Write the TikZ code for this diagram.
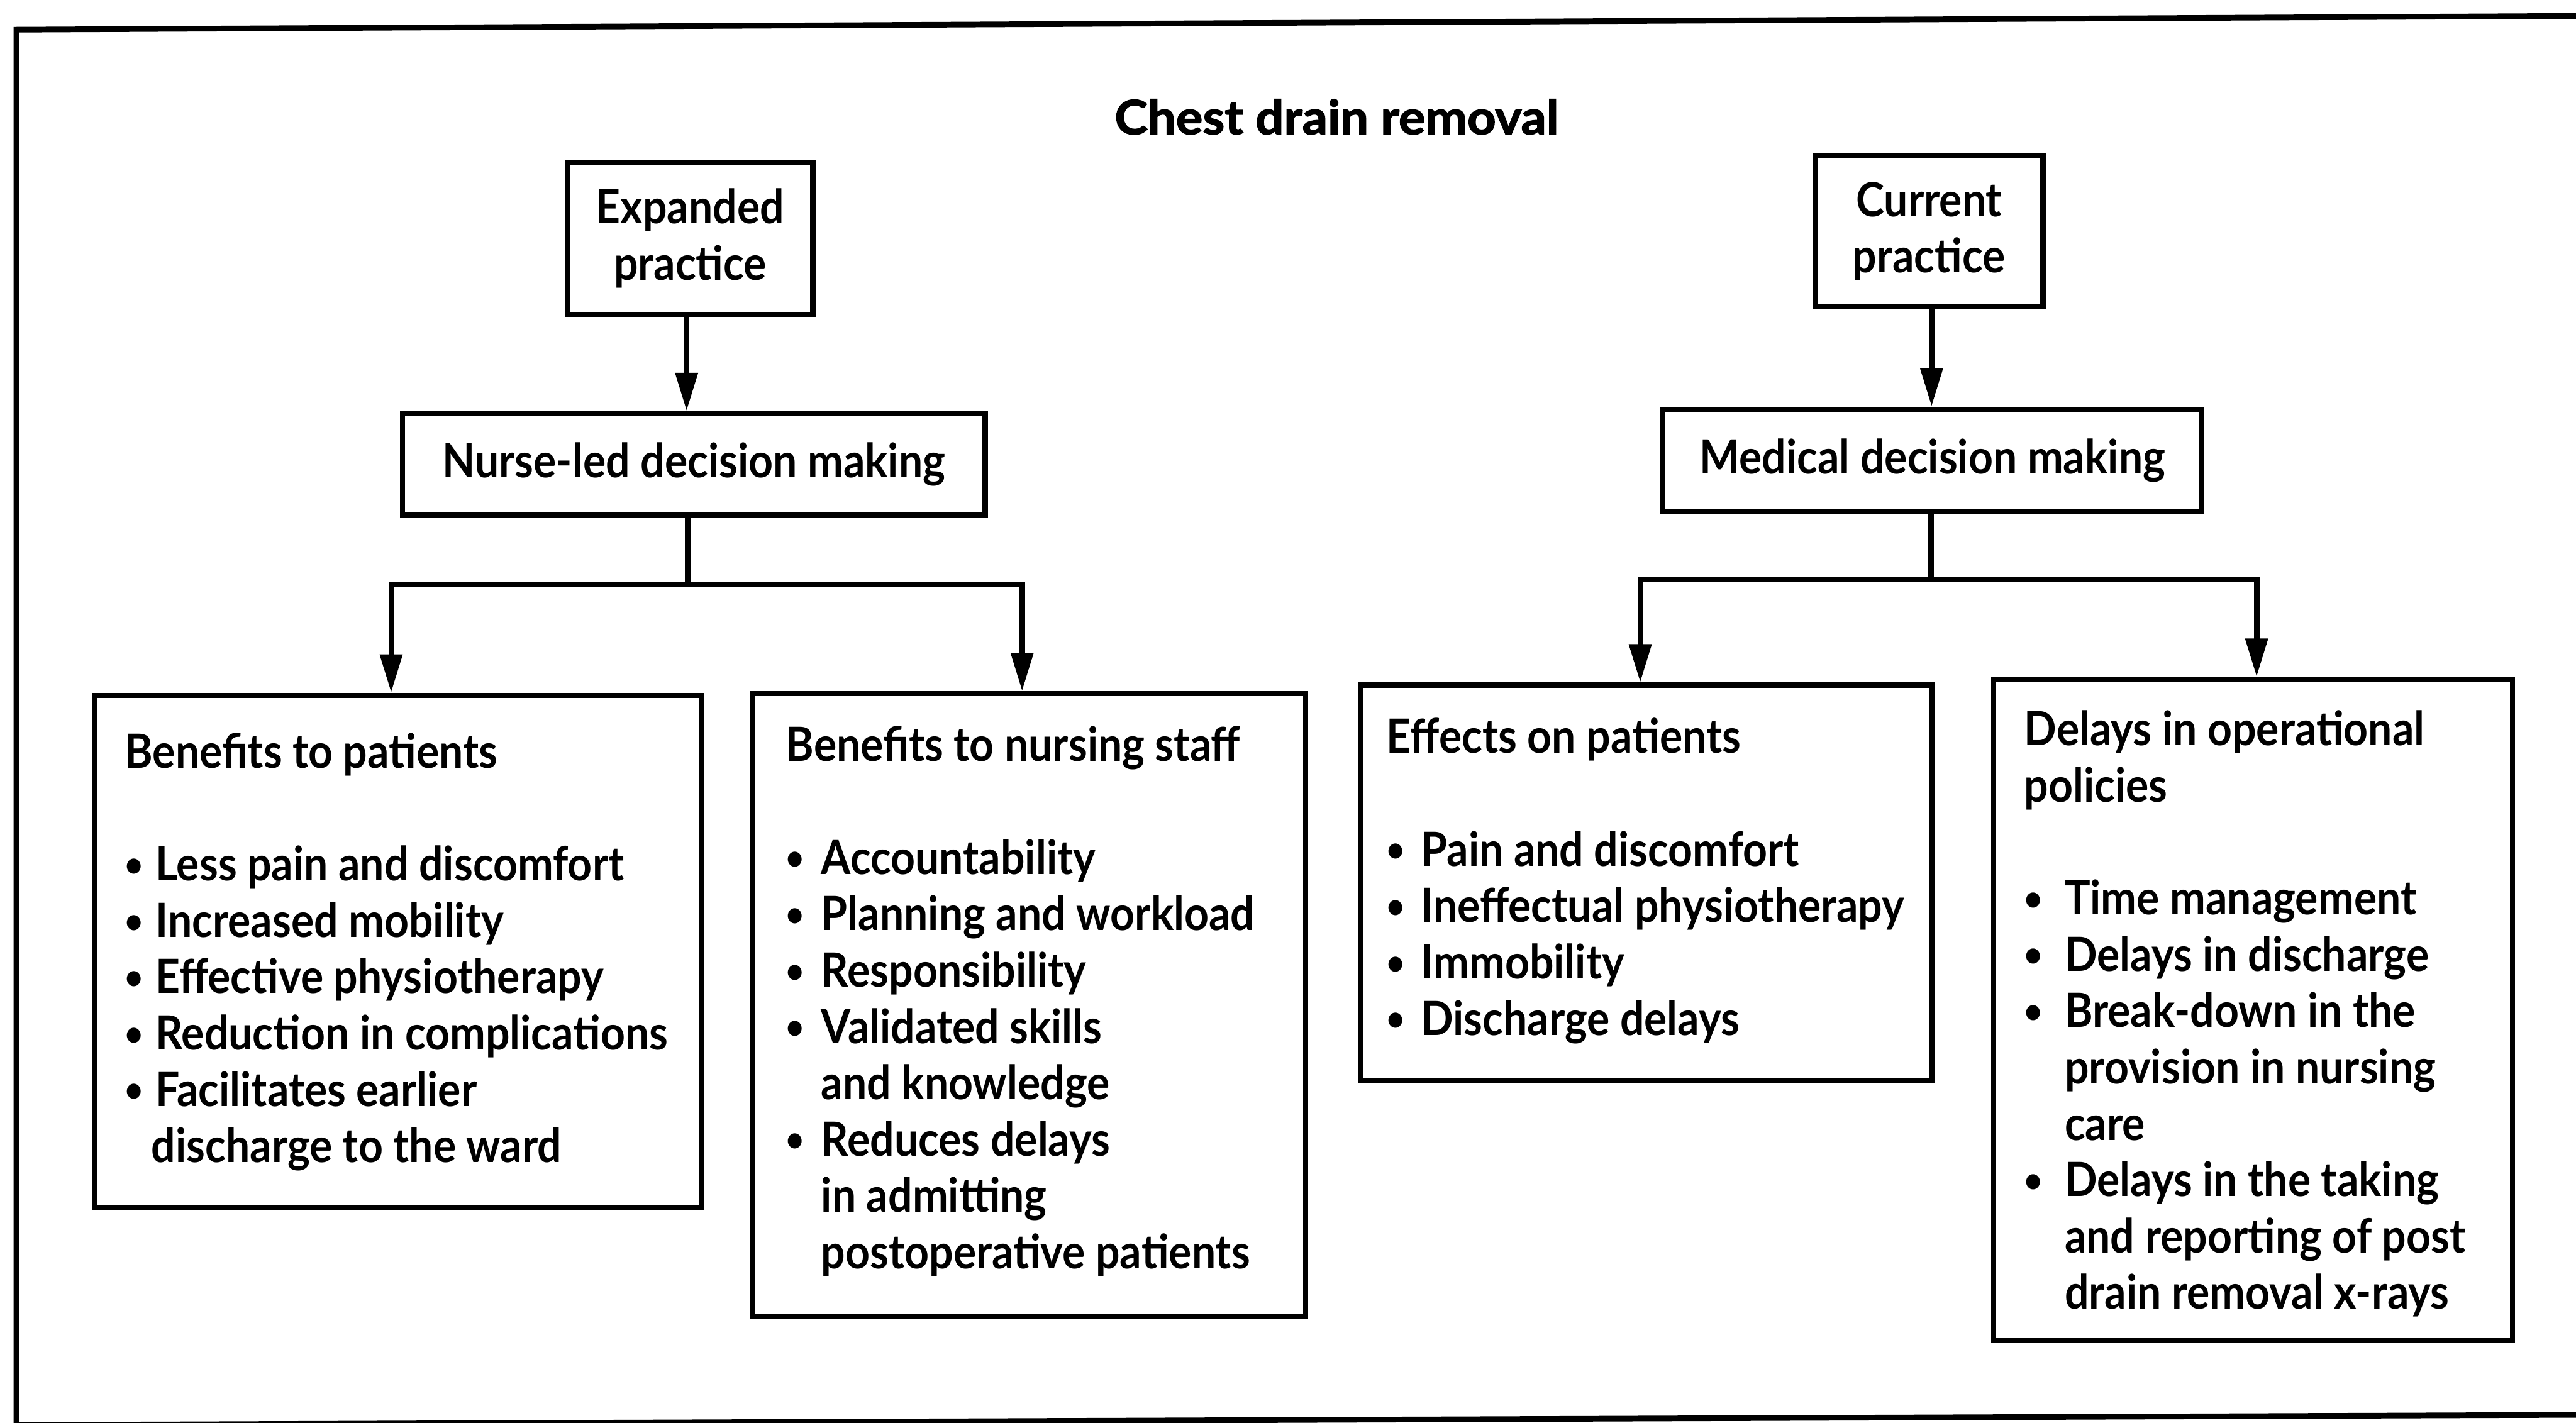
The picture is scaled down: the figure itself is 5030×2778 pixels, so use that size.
\documentclass[tikz,border=0pt]{standalone}
\usepackage{fontspec}
\setmainfont{Lato}[FakeStretch=0.905]
\newfontfamily\titlefont{Lato}[FakeStretch=1.06,UprightFont=* Bold,FakeBold=2]
\usetikzlibrary{arrows.meta}

\newcommand\bodyfont{\fontsize{26.2pt}{1.1cm}\selectfont\bfseries}
% small round bullet
\newcommand\dotmark{\raisebox{2.2pt}{\fontsize{19.5pt}{0pt}\selectfont\textbullet}}
% bullet item: #1 indent of the text, #2 text
\newcommand\bul[2]{\makebox[#1][l]{\dotmark}#2}
% continuation line of a bullet item
\newcommand\cont[2]{\hspace*{#1}#2}
% block of left-aligned lines, its first baseline is the node's base
\newcommand\lines[1]{\parbox[t]{11cm}{\bodyfont #1}}

\tikzset{
  frameline/.style={line width=0.11cm, line cap=butt},
  box/.style={draw, line width=0.1cm, inner sep=0pt, anchor=north west,
              align=center, font=\bodyfont},
  conn/.style={line width=0.11cm, line join=miter},
  arr/.style={conn, -{Triangle[length=0.75cm,width=0.42cm]}},
  txt/.style={inner sep=0pt, anchor=base west},
}

\begin{document}
\begin{tikzpicture}[x=0.01cm,y=-0.01cm]
\useasboundingbox (0,0) rectangle (5030,2778);

% outer frame
\coordinate (ftl) at (32,58);
\coordinate (ftr) at (5045,31);
\coordinate (fbl) at (32,2783);
\coordinate (fbr) at (5045,2763);
\draw[frameline] (ftr) -- (ftl) -- (fbl);
\draw[frameline] (fbl) -- (fbr);

% title
\node[inner sep=0pt, anchor=base] (title) at (2610,262)
  {\fontsize{26.2pt}{1.1cm}\selectfont\titlefont Chest drain removal};

% top row
\node[box, minimum width=4.79cm, minimum height=2.97cm] (exp) at (1103,312)
  {Expanded\\practice};
\node[box, minimum width=4.45cm, minimum height=2.95cm] (cur) at (3539,299)
  {Current\\practice};

% decision boxes
\node[box, minimum width=11.37cm, minimum height=1.97cm] (nurse) at (781,803)
  {Nurse-led decision making};
\node[box, minimum width=10.52cm, minimum height=2.00cm] (med) at (3242,794)
  {Medical decision making};

% outcome boxes
\node[box, minimum width=11.85cm, minimum height=9.99cm] (bp) at (180,1353) {};
\node[box, minimum width=10.79cm, minimum height=12.15cm] (bn) at (1465,1350) {};
\node[box, minimum width=11.15cm, minimum height=7.72cm] (ep) at (2652,1333) {};
\node[box, minimum width=10.12cm, minimum height=12.90cm] (dp) at (3888,1322) {};

\node[txt] (bptext) at (243,1500) {\lines{%
  Benefits to patients\\[1.1cm]
  \bul{0.6cm}{Less pain and discomfort}\\
  \bul{0.6cm}{Increased mobility}\\
  \bul{0.6cm}{Effective physiotherapy}\\
  \bul{0.6cm}{Reduction in complications}\\
  \bul{0.6cm}{Facilitates earlier}\\
  \cont{0.52cm}{discharge to the ward}}};

\node[txt] (bntext) at (1534,1487) {\lines{%
  Benefits to nursing staff\\[1.1cm]
  \bul{0.69cm}{Accountability}\\
  \bul{0.69cm}{Planning and workload}\\
  \bul{0.69cm}{Responsibility}\\
  \bul{0.69cm}{Validated skills}\\
  \cont{0.69cm}{and knowledge}\\
  \bul{0.69cm}{Reduces delays}\\
  \cont{0.69cm}{in admitting}\\
  \cont{0.69cm}{postoperative patients}}};

\node[txt] (eptext) at (2707,1471) {\lines{%
  Effects on patients\\[1.1cm]
  \bul{0.67cm}{Pain and discomfort}\\
  \bul{0.67cm}{Ineffectual physiotherapy}\\
  \bul{0.67cm}{Immobility}\\
  \bul{0.67cm}{Discharge delays}}};

\node[txt] (dptext) at (3952,1456) {\lines{%
  Delays in operational\\
  policies\\[1.1cm]
  \bul{0.79cm}{Time management}\\
  \bul{0.79cm}{Delays in discharge}\\
  \bul{0.79cm}{Break-down in the}\\
  \cont{0.79cm}{provision in nursing}\\
  \cont{0.79cm}{care}\\
  \bul{0.79cm}{Delays in the taking}\\
  \cont{0.79cm}{and reporting of post}\\
  \cont{0.79cm}{drain removal x-rays}}};

% connectors (drops sit a little left of the box centres)
\coordinate (lbar) at (0,1141);
\coordinate (rbar) at (0,1131);
\coordinate (lstem) at ([xshift=-0.12cm]nurse.south);
\coordinate (rstem) at ([xshift=-0.03cm]med.south);

\draw[arr] ([xshift=-0.07cm]exp.south) -- ([xshift=-0.07cm]exp.south |- nurse.north);
\draw[conn] (lstem) -- (lstem |- lbar);
\draw[arr] (lstem |- lbar) -| ([xshift=-0.14cm]bp.north);
\draw[arr] (lstem |- lbar) -| ([xshift=-0.14cm]bn.north);

\draw[arr] ([xshift=0.05cm]cur.south) -- ([xshift=0.05cm]cur.south |- med.north);
\draw[conn] (rstem) -- (rstem |- rbar);
\draw[arr] (rstem |- rbar) -| ([xshift=-0.12cm]ep.north);
\draw[arr] (rstem |- rbar) -| ([xshift=0.07cm]dp.north);
\end{tikzpicture}
\end{document}
